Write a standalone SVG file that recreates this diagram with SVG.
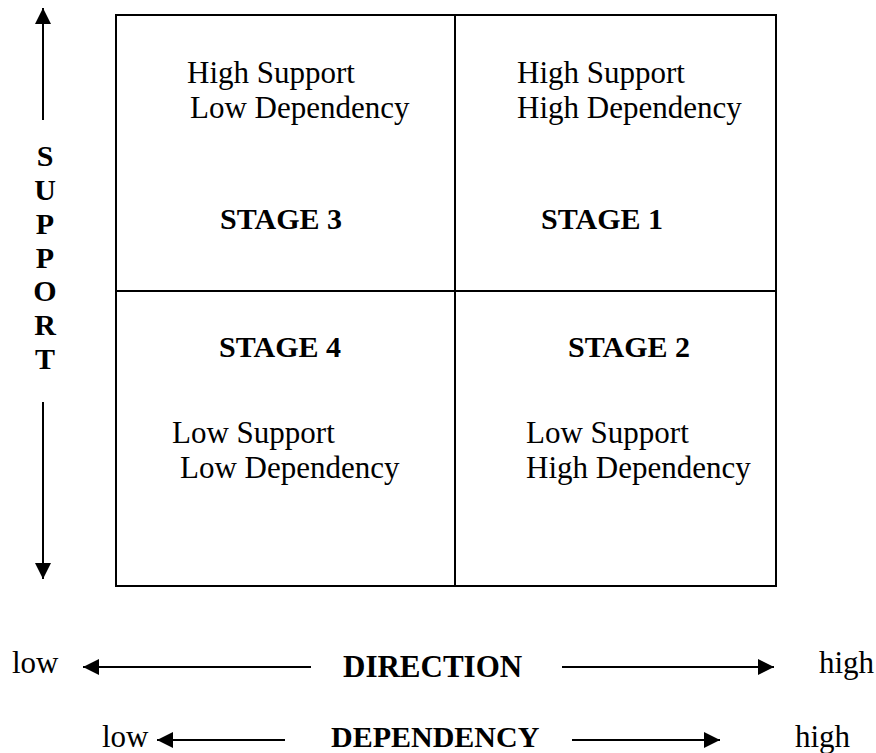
<svg xmlns="http://www.w3.org/2000/svg" width="876" height="753" viewBox="0 0 876 753">
<style>
.r{font-family:"Liberation Serif","Times New Roman",serif;font-size:31px;fill:#000}
.b{font-family:"Liberation Serif","Times New Roman",serif;font-size:30px;font-weight:bold;fill:#000}
.ln{stroke:#000;stroke-width:2;fill:none}
</style>
<defs>
<marker id="av" viewBox="0 0 10 10" refX="10" refY="5" markerWidth="16" markerHeight="16" markerUnits="userSpaceOnUse" orient="auto"><path d="M0,0 L10,5 L0,10 Z" fill="#000"/></marker>
</defs>
<g id="grid">
<rect x="116" y="15" width="660" height="571" class="ln" stroke-width="2.5"/>
<line x1="455" y1="15" x2="455" y2="586" class="ln"/>
<line x1="116" y1="291" x2="776" y2="291" class="ln"/>
</g>
<g id="stage3">
<text class="r" x="187" y="83">High Support</text>
<text class="r" x="190" y="118">Low Dependency</text>
<text class="b" x="220" y="229">STAGE 3</text>
</g>
<g id="stage1">
<text class="r" x="517" y="83">High Support</text>
<text class="r" x="517" y="118">High Dependency</text>
<text class="b" x="541" y="229">STAGE 1</text>
</g>
<g id="stage4">
<text class="b" x="219" y="357">STAGE 4</text>
<text class="r" x="172" y="443">Low Support</text>
<text class="r" x="180" y="478">Low Dependency</text>
</g>
<g id="stage2">
<text class="b" x="568" y="357">STAGE 2</text>
<text class="r" x="526" y="443">Low Support</text>
<text class="r" x="526" y="478">High Dependency</text>
</g>
<g id="support-axis">
<text class="b" x="45" y="166" text-anchor="middle">S</text>
<text class="b" x="45" y="200" text-anchor="middle">U</text>
<text class="b" x="45" y="234" text-anchor="middle">P</text>
<text class="b" x="45" y="268" text-anchor="middle">P</text>
<text class="b" x="45" y="301" text-anchor="middle">O</text>
<text class="b" x="45" y="335" text-anchor="middle">R</text>
<text class="b" x="45" y="369" text-anchor="middle">T</text>
</g>
<g id="direction-axis">
<text class="r" x="12" y="673">low</text>
<text class="b" x="343" y="677" style="font-size:31px">DIRECTION</text>
<text class="r" x="819" y="673">high</text>
</g>
<g id="dependency-axis">
<text class="r" x="102" y="747">low</text>
<text class="b" x="331" y="747">DEPENDENCY</text>
<text class="r" x="795" y="747">high</text>
</g>
<g id="connectors">
<line x1="43" y1="120" x2="43" y2="8" class="ln" marker-end="url(#av)"/>
<line x1="43" y1="402" x2="43" y2="579" class="ln" marker-end="url(#av)"/>
<line x1="311" y1="667" x2="83" y2="667" class="ln" marker-end="url(#av)"/>
<line x1="562" y1="667" x2="774" y2="667" class="ln" marker-end="url(#av)"/>
<line x1="285" y1="740" x2="157" y2="740" class="ln" marker-end="url(#av)"/>
<line x1="572" y1="740" x2="720" y2="740" class="ln" marker-end="url(#av)"/>
</g>
</svg>
